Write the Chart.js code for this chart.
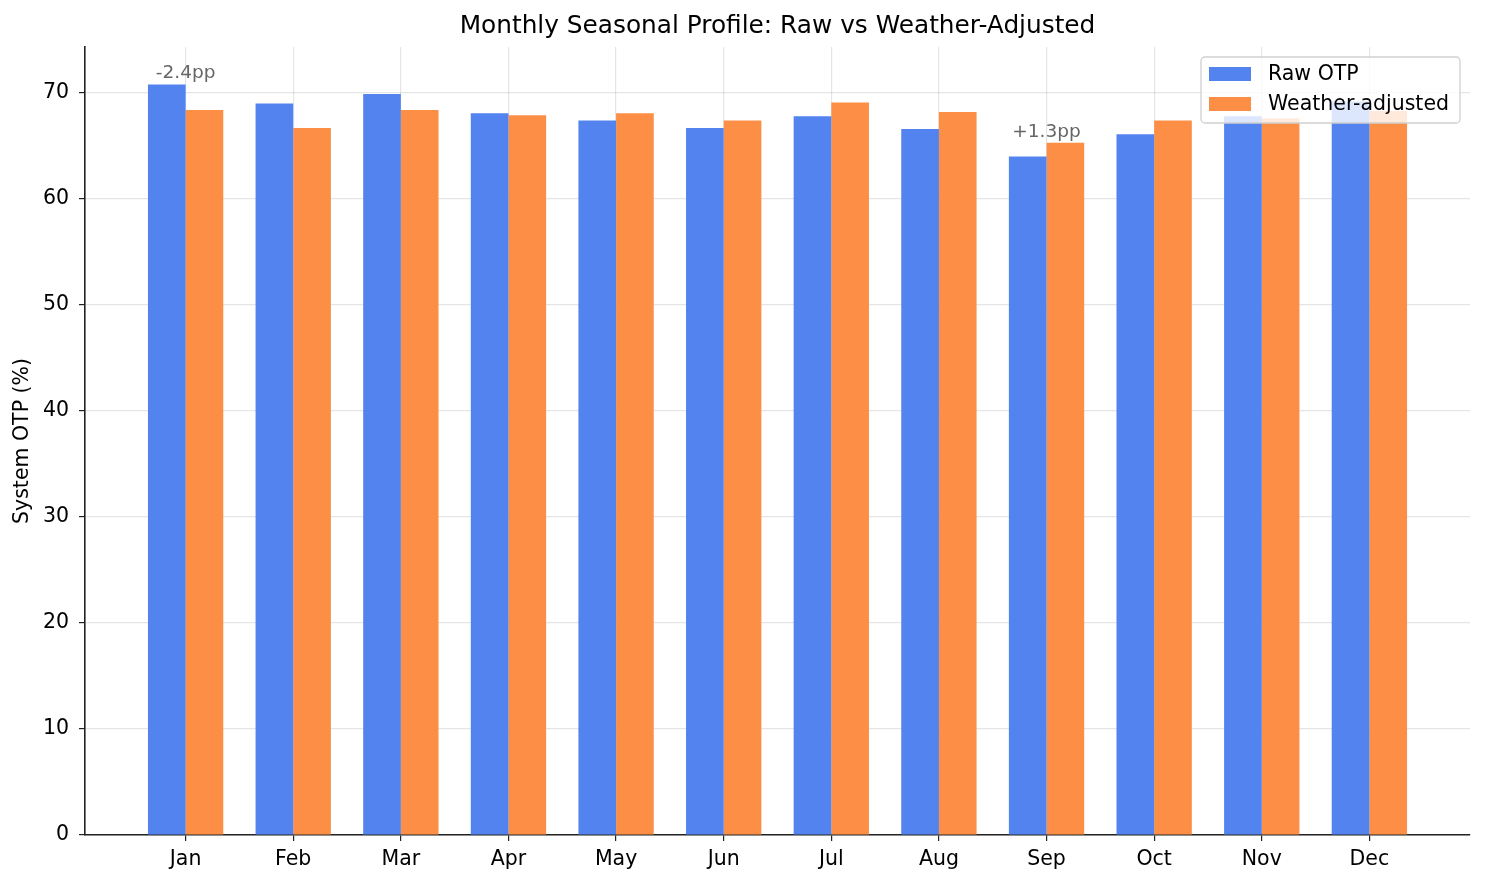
<!DOCTYPE html>
<html lang="en">
<head>
    <meta charset="UTF-8">
    <title>Monthly Seasonal Profile</title>
    <script src="https://cdn.jsdelivr.net/npm/chart.js"></script>
    <style>
        html, body { margin: 0; padding: 0; background: #ffffff; }
        #wrap { width: 1485px; height: 885px; }
    </style>
</head>
<body>
<div id="wrap"><canvas id="seasonChart" width="1485" height="885"></canvas></div>
<script>
    // data
    const months = ['Jan', 'Feb', 'Mar', 'Apr', 'May', 'Jun', 'Jul', 'Aug', 'Sep', 'Oct', 'Nov', 'Dec'];
    const rawOtp = [70.8, 69.0, 69.9, 68.1, 67.4, 66.7, 67.8, 66.6, 64.0, 66.1, 67.8, 69.2];
    const adjOtp = [68.4, 66.7, 68.4, 67.9, 68.1, 67.4, 69.1, 68.2, 65.3, 67.4, 67.6, 68.3];
    const yTicks = [0, 10, 20, 30, 40, 50, 60, 70];
    const seriesNames = ['Raw OTP', 'Weather-adjusted'];

    const BLUE = '#5283ef';
    const ORANGE = '#fc8f45';
    const FONT = "'DejaVu Sans', sans-serif";

    // axis ranges like matplotlib's 5% margins
    const barHalf = 0.35;
    const xPad = 0.05 * ((months.length - 1) + 2 * barHalf);
    const xMin = -barHalf - xPad;
    const xMax = months.length - 1 + barHalf + xPad;
    const yMax = Math.max(...rawOtp, ...adjOtp) * 1.05;

    // annotate the best and worst raw month with the adjustment
    const hiIdx = rawOtp.indexOf(Math.max(...rawOtp));
    const loIdx = rawOtp.indexOf(Math.min(...rawOtp));

    const extras = {
        id: 'extras',
        afterDatasetsDraw(chart) {
            const { ctx, scales } = chart;
            ctx.save();
            ctx.font = '18.5px ' + FONT;
            ctx.fillStyle = '#666666';
            ctx.textAlign = 'center';
            ctx.textBaseline = 'bottom';
            [hiIdx, loIdx].forEach(i => {
                const d = adjOtp[i] - rawOtp[i];
                const txt = (d > 0 ? '+' : '') + d.toFixed(1) + 'pp';
                const top = Math.max(rawOtp[i], adjOtp[i]) + 0.15;
                ctx.fillText(txt, scales.x.getPixelForValue(i), scales.y.getPixelForValue(top));
            });
            ctx.restore();
        },
        afterDraw(chart) {
            const { ctx, chartArea } = chart;
            ctx.save();
            // title
            ctx.font = '24.8px ' + FONT;
            ctx.fillStyle = '#000';
            ctx.textAlign = 'center';
            ctx.textBaseline = 'middle';
            ctx.fillText('Monthly Seasonal Profile: Raw vs Weather-Adjusted', (chartArea.left + chartArea.right) / 2, 27);

            // legend box, upper right
            const bx = 1201, by = 57, bw = 259, bh = 66;
            ctx.beginPath();
            ctx.roundRect(bx, by, bw, bh, 4);
            ctx.fillStyle = 'rgba(255,255,255,0.8)';
            ctx.fill();
            ctx.strokeStyle = '#d0d0d0';
            ctx.lineWidth = 1.3;
            ctx.stroke();
            ctx.font = '20.5px ' + FONT;
            ctx.textAlign = 'left';
            [BLUE, ORANGE].forEach((c, k) => {
                const cy = by + 17 + k * 30;
                ctx.fillStyle = c;
                ctx.fillRect(bx + 8, cy - 7, 42, 14);
                ctx.fillStyle = '#000';
                ctx.fillText(seriesNames[k], bx + 67, cy + 1);
            });
            ctx.restore();
        }
    };

    const ctx = document.getElementById('seasonChart').getContext('2d');
    new Chart(ctx, {
        type: 'bar',
        data: {
            datasets: [
                {
                    label: seriesNames[0],
                    data: rawOtp.map((v, i) => ({ x: i, y: v })),
                    backgroundColor: BLUE,
                    borderWidth: 0,
                    barPercentage: 1.0,
                    categoryPercentage: 2 * barHalf
                },
                {
                    label: seriesNames[1],
                    data: adjOtp.map((v, i) => ({ x: i, y: v })),
                    backgroundColor: ORANGE,
                    borderWidth: 0,
                    barPercentage: 1.0,
                    categoryPercentage: 2 * barHalf
                }
            ]
        },
        options: {
            responsive: false,
            animation: false,
            layout: { padding: { top: 47, right: 15, left: 0, bottom: 0 } },
            plugins: {
                legend: { display: false },
                title: { display: false },
                tooltip: { enabled: false }
            },
            scales: {
                x: {
                    type: 'linear',
                    min: xMin,
                    max: xMax,
                    offset: false,
                    afterBuildTicks: s => { s.ticks = months.map((m, i) => ({ value: i })); },
                    afterFit: s => { s.height = 50; },
                    ticks: {
                        callback: v => months[v],
                        color: '#000',
                        font: { family: FONT, size: 20.5 },
                        padding: 6,
                        maxRotation: 0,
                        autoSkip: false
                    },
                    grid: {
                        offset: false,
                        color: 'rgba(0,0,0,0.1)',
                        tickColor: '#222',
                        tickLength: 6,
                        lineWidth: 1.2
                    },
                    border: { color: '#222', width: 1.6 }
                },
                y: {
                    min: 0,
                    max: yMax,
                    afterBuildTicks: s => { s.ticks = yTicks.map(v => ({ value: v })); },
                    afterFit: s => { s.width = 85; },
                    ticks: {
                        color: '#000',
                        font: { family: FONT, size: 20.5 },
                        padding: 10
                    },
                    grid: {
                        color: 'rgba(0,0,0,0.1)',
                        tickColor: '#222',
                        tickLength: 6,
                        lineWidth: 1.2
                    },
                    border: { color: '#222', width: 1.6 },
                    title: {
                        display: true,
                        text: 'System OTP (%)',
                        color: '#000',
                        font: { family: FONT, size: 20.5 },
                        padding: { top: 10, bottom: 0 }
                    }
                }
            }
        },
        plugins: [extras]
    });
</script>
</body>
</html>
